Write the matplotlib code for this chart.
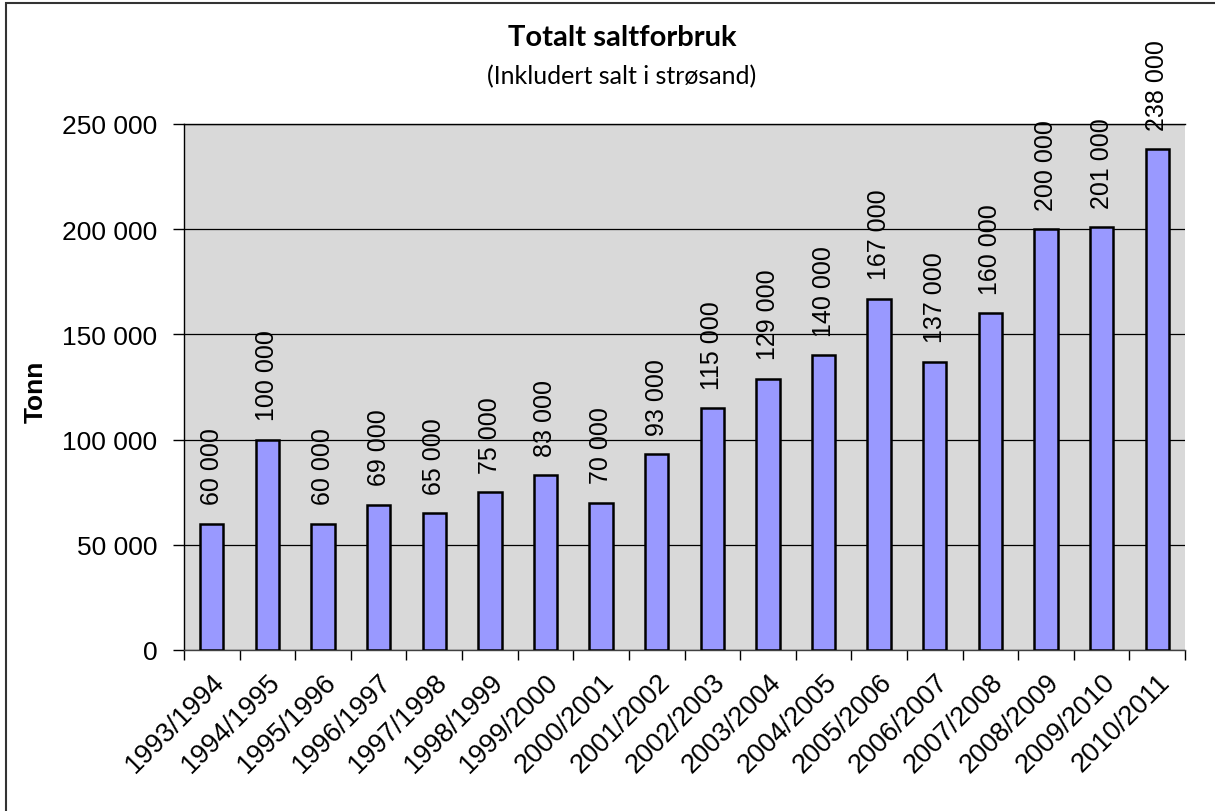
import matplotlib
matplotlib.use("Agg")
import matplotlib.pyplot as plt
from matplotlib.patches import Rectangle
from matplotlib.ticker import FuncFormatter, FixedLocator
import numpy as np

categories = ["1993/1994", "1994/1995", "1995/1996", "1996/1997", "1997/1998",
              "1998/1999", "1999/2000", "2000/2001", "2001/2002", "2002/2003",
              "2003/2004", "2004/2005", "2005/2006", "2006/2007", "2007/2008",
              "2008/2009", "2009/2010", "2010/2011"]
values = [60000, 100000, 60000, 69000, 65000, 75000, 83000, 70000, 93000,
          115000, 129000, 140000, 167000, 137000, 160000, 200000, 201000, 238000]
yticks = [0, 50000, 100000, 150000, 200000, 250000]

title = "Totalt saltforbruk"
subtitle = "(Inkludert salt i strøsand)"
ylabel = "Tonn"

plt.rcParams['font.family'] = ['Liberation Sans', 'DejaVu Sans']

fig = plt.figure(figsize=(12.15, 8.12), dpi=100)
ax = fig.add_axes([184/1215, 1-651/812, (1185-184)/1215, (651-125)/812])
ax.set_facecolor('#d9d9d9')

x = np.arange(len(categories))
ax.bar(x, values, width=0.42, color='#9999ff', edgecolor='black', linewidth=1.8, zorder=3)

def fmt(v, pos=None):
    return f"{int(v):,}".replace(",", " ")

for xi, v in zip(x, values):
    ax.annotate(fmt(v), (xi, v), xytext=(0, 14), textcoords='offset points',
                rotation=90, ha='center', va='bottom', fontsize=18, zorder=4,
                annotation_clip=False)

ax.set_xlim(-0.5, len(categories) - 0.5)
ax.set_ylim(0, 250000)
ax.set_yticks(yticks)
ax.yaxis.set_major_formatter(FuncFormatter(fmt))
ax.yaxis.grid(True, color='black', linewidth=0.9, zorder=1)
ax.set_axisbelow(True)

ax.set_xticks(x)
ax.set_xticklabels(categories, rotation=45, ha='right', rotation_mode='anchor', fontsize=19.5)
ax.xaxis.set_minor_locator(FixedLocator(np.arange(-0.5, len(categories), 1.0)))
ax.tick_params(axis='x', which='major', length=0, pad=13)
ax.tick_params(axis='x', which='minor', length=7, width=1, color='black')
ax.tick_params(axis='y', length=8, width=1, pad=11, labelsize=19)

ax.spines['right'].set_visible(False)
ax.spines['top'].set_linewidth(1)
ax.spines['left'].set_linewidth(1)
ax.spines['bottom'].set_linewidth(1)
ax.spines['bottom'].set_color('#404040')

fig.text(36/1215, 1-392/812, ylabel, rotation=90, ha='center', va='center',
         fontsize=19, fontweight='bold')
fig.text(622/1215, 1-38/812, title, ha='center', va='center', fontsize=21,
         fontweight='bold', family=['Lato', 'DejaVu Sans'])
fig.text(622/1215, 1-77/812, subtitle, ha='center', va='center', fontsize=18,
         family=['Lato', 'DejaVu Sans'])

fig.patches.append(Rectangle((6/1215, -0.05), 1.2, 1 - 4/812 + 0.05,
                             transform=fig.transFigure, fill=False,
                             edgecolor='#333333', linewidth=1.5))

fig.savefig("out.png", dpi=100)
